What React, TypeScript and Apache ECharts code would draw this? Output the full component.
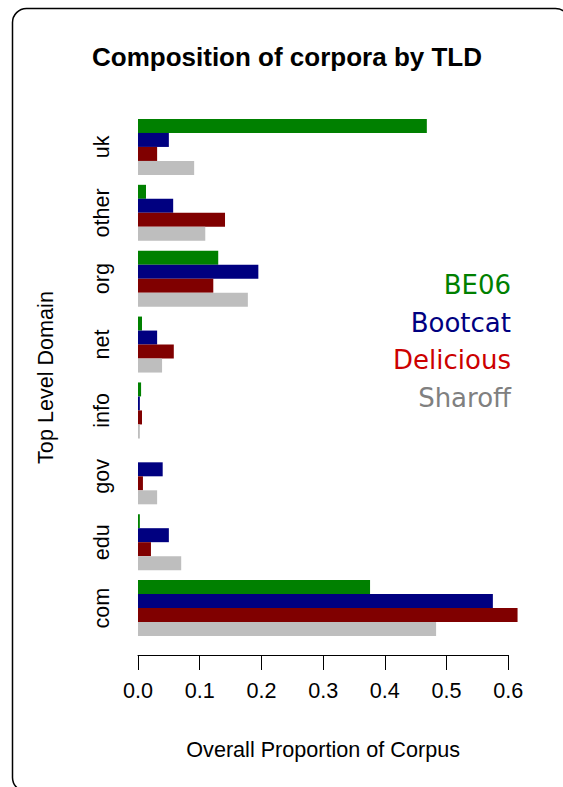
import React, { useEffect, useRef } from "react";
import * as echarts from "echarts";

const categories = ["com", "edu", "gov", "info", "net", "org", "other", "uk"];
const seriesNames = ["BE06", "Bootcat", "Delicious", "Sharoff"];
const be06 = [0.376, 0.003, 0.0, 0.005, 0.0065, 0.13, 0.013, 0.468];
const bootcat = [0.575, 0.05, 0.04, 0.003, 0.031, 0.195, 0.057, 0.05];
const delicious = [0.615, 0.021, 0.008, 0.0065, 0.058, 0.122, 0.141, 0.031];
const sharoff = [0.483, 0.07, 0.031, 0.003, 0.039, 0.178, 0.109, 0.091];
const seriesValues = [be06, bootcat, delicious, sharoff];
const barColors = ["#008000", "#000080", "#800000", "#bebebe"];
const legendColors = ["#008000", "#000080", "#cc0000", "#808080"];
const xTicks = [0, 0.1, 0.2, 0.3, 0.4, 0.5, 0.6];

export default function App() {
  const ref = useRef<HTMLDivElement>(null);
  useEffect(() => {
    document.body.style.margin = "0";
    const chart = echarts.init(ref.current!, null, { renderer: "svg" });
    const base = 21.6;
    const font = "Liberation Sans, Arial, sans-serif";
    chart.setOption({
      animation: false,
      backgroundColor: "#ffffff",
      title: {
        text: "Composition of corpora by TLD",
        left: 282,
        textAlign: "center",
        top: 39,
        textStyle: { fontFamily: font, fontSize: 26, fontWeight: "bold", color: "#000" },
      },
      grid: { left: 138, right: 54.7, top: 114, bottom: 146, containLabel: false },
      xAxis: {
        type: "value",
        min: 0,
        max: 0.6,
        interval: 0.1,
        offset: 14,
        axisLine: { show: true, lineStyle: { color: "#000", width: 1 } },
        axisTick: { show: true, length: 15, lineStyle: { color: "#000", width: 1 } },
        axisLabel: {
          fontFamily: font,
          fontSize: base,
          color: "#000",
          margin: 24,
          formatter: (v: number) => v.toFixed(1),
          customValues: xTicks,
        },
        splitLine: { show: false },
        name: "Overall Proportion of Corpus",
        nameLocation: "middle",
        nameGap: 83,
        nameTextStyle: { fontFamily: font, fontSize: base, color: "#000" },
      },
      yAxis: {
        type: "category",
        data: categories,
        axisLine: { show: false },
        axisTick: { show: false },
        axisLabel: { rotate: 90, fontFamily: font, fontSize: base, color: "#000", margin: 26 },
        name: "Top Level Domain",
        nameLocation: "middle",
        nameRotate: 90,
        nameGap: 82,
        nameTextStyle: { fontFamily: font, fontSize: base, color: "#000" },
      },
      series: seriesNames.map((n, i) => ({
        type: "bar",
        name: n,
        data: seriesValues[i],
        clip: false,
        barGap: "0%",
        barCategoryGap: "15%",
        itemStyle: { color: barColors[i] },
      })),
      graphic: [
        {
          type: "rect",
          shape: { x: 12.5, y: 8.5, width: 557, height: 783, r: 14 },
          style: { fill: "none", stroke: "#000", lineWidth: 1.5 },
          silent: true,
          z: -1,
        },
        ...seriesNames.map((n, i) => ({
          type: "text",
          right: 52,
          top: 272 + i * 37.5,
          style: {
            text: n,
            fill: legendColors[i],
            fontFamily: "DejaVu Sans",
            fontSize: 26,
            textAlign: "right",
          },
        })),
      ],
    });
    return () => chart.dispose();
  }, []);
  return <div ref={ref} style={{ width: 563, height: 787 }} />;
}
